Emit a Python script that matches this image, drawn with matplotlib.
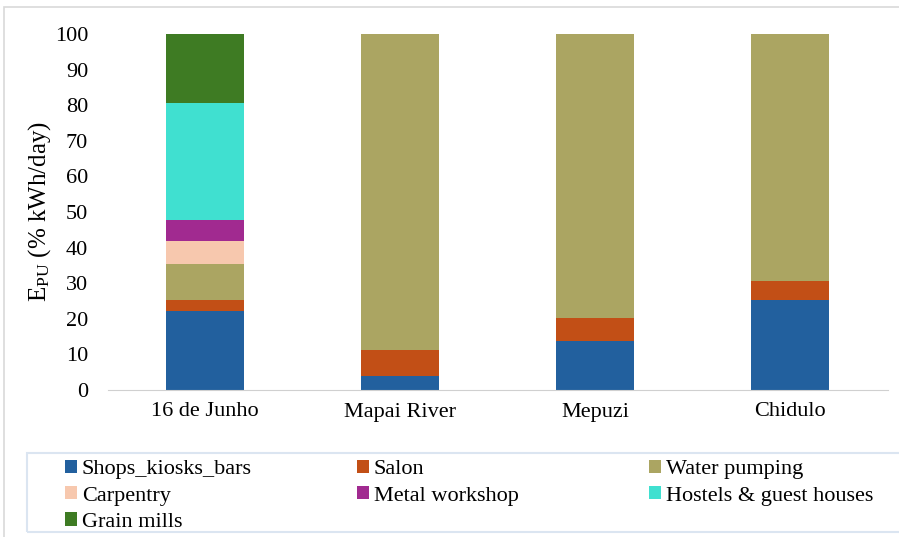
import numpy as np
import matplotlib.pyplot as plt
from matplotlib.patches import Rectangle

plt.rcParams['font.family'] = ['Liberation Serif', 'DejaVu Serif']
plt.rcParams['mathtext.fontset'] = 'custom'
plt.rcParams['mathtext.rm'] = 'Liberation Serif'
plt.rcParams['mathtext.it'] = 'Liberation Serif:italic'

sites = ["16 de Junho", "Mapai River", "Mepuzi", "Chidulo"]
categories = ["Shops_kiosks_bars", "Salon", "Water pumping", "Carpentry",
              "Metal workshop", "Hostels & guest houses", "Grain mills"]
colors = ["#22609E", "#C24F16", "#ABA562", "#F7C8AE", "#A12A90", "#40E0D0", "#3E7B23"]

shops = [22.2, 4.0, 13.8, 25.3]
salon = [3.1, 7.2, 6.4, 5.3]
water = [10.1, 88.8, 79.8, 69.4]
carpentry = [6.5, 0, 0, 0]
metal = [5.9, 0, 0, 0]
hostels = [32.9, 0, 0, 0]
grain = [19.3, 0, 0, 0]
series = [shops, salon, water, carpentry, metal, hostels, grain]

W, H = 899, 537
fig = plt.figure(figsize=(W / 100, H / 100), dpi=100)
ax = fig.add_axes([107.5 / W, 1 - 390 / H, 780 / W, 356 / H])

x = np.arange(len(sites))
bottom = np.zeros(len(sites))
handles = []
for vals, lab, col in zip(series, categories, colors):
    h = ax.bar(x, vals, 0.4, bottom=bottom, color=col, label=lab)
    handles.append(h)
    bottom += np.array(vals)

ax.set_xlim(-0.5, len(sites) - 0.5)
ax.set_ylim(0, 100)
ax.set_yticks(range(0, 101, 10))
ax.set_xticks(x)
ax.set_xticklabels(sites)
ax.tick_params(axis='both', length=0, labelsize=16)
ax.tick_params(axis='y', pad=14)
ax.tick_params(axis='x', pad=9)
for s in ['top', 'right', 'left']:
    ax.spines[s].set_visible(False)
ax.spines['bottom'].set_color('#d0d0d0')
ax.set_ylabel(r'E$_{\rm PU}$ (% kWh/day)', fontsize=18)
ax.yaxis.set_label_coords(-0.07, 0.5)

# legend box, then three columns laid out like the original (equal column starts)
fig.patches.append(Rectangle((27 / W, 1 - 532 / H), 1.0, 79 / H, transform=fig.transFigure,
                             fill=False, edgecolor='#dbe5f1', linewidth=1.5))
columns = [[0, 3, 6], [1, 4], [2, 5]]
col_x = [65, 357, 649]
for idx, cx in zip(columns, col_x):
    fig.legend([handles[i] for i in idx], [categories[i] for i in idx],
               loc='upper left', bbox_to_anchor=(cx / W, 1 - 460 / H),
               frameon=False, fontsize=16, handlelength=0.54, handleheight=0.54,
               handletextpad=0.22, labelspacing=0.3, borderpad=0, borderaxespad=0)

fig.patches.append(Rectangle((0.004, -0.01), 1.0, 0.997, transform=fig.transFigure,
                             fill=False, edgecolor='#d9d9d9', linewidth=1.2))

fig.savefig('out.png', dpi=100)
